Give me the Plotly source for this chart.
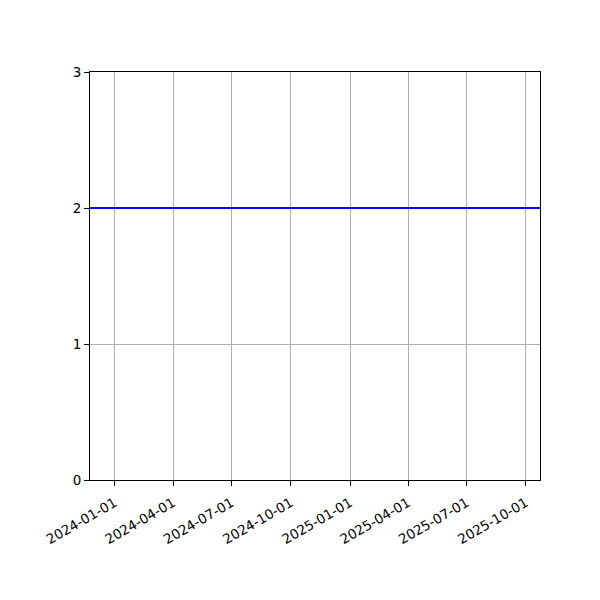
import plotly.graph_objects as go

# data
dates = ["2023-11-24", "2025-10-23"]
values = [2, 2]
tick_dates = ["2024-01-01", "2024-04-01", "2024-07-01", "2024-10-01",
              "2025-01-01", "2025-04-01", "2025-07-01", "2025-10-01"]
y_ticks = [0, 1, 2, 3]

fig = go.Figure()
fig.add_trace(go.Scatter(x=dates, y=values, mode="lines",
                         line=dict(color="blue", width=2), showlegend=False))

axis_style = dict(showline=True, linecolor="black", linewidth=1, mirror=True,
                  ticks="outside", ticklen=5, tickcolor="black",
                  showgrid=True, gridcolor="#b0b0b0", gridwidth=1,
                  zeroline=False, tickfont=dict(size=13.5, color="black"))

fig.update_layout(
    width=600, height=600,
    margin=dict(l=82, r=68, t=64, b=128),
    plot_bgcolor="white", paper_bgcolor="white",
    font=dict(family="DejaVu Sans", size=13.5, color="black"),
    xaxis=dict(range=["2023-11-24", "2025-10-23"], tickmode="array",
               tickvals=tick_dates, ticktext=tick_dates, tickangle=-30,
               ticklabelstandoff=4, **axis_style),
    yaxis=dict(range=[0, 3], tickmode="array", tickvals=y_ticks, **axis_style),
)

fig.write_html("out.html")
